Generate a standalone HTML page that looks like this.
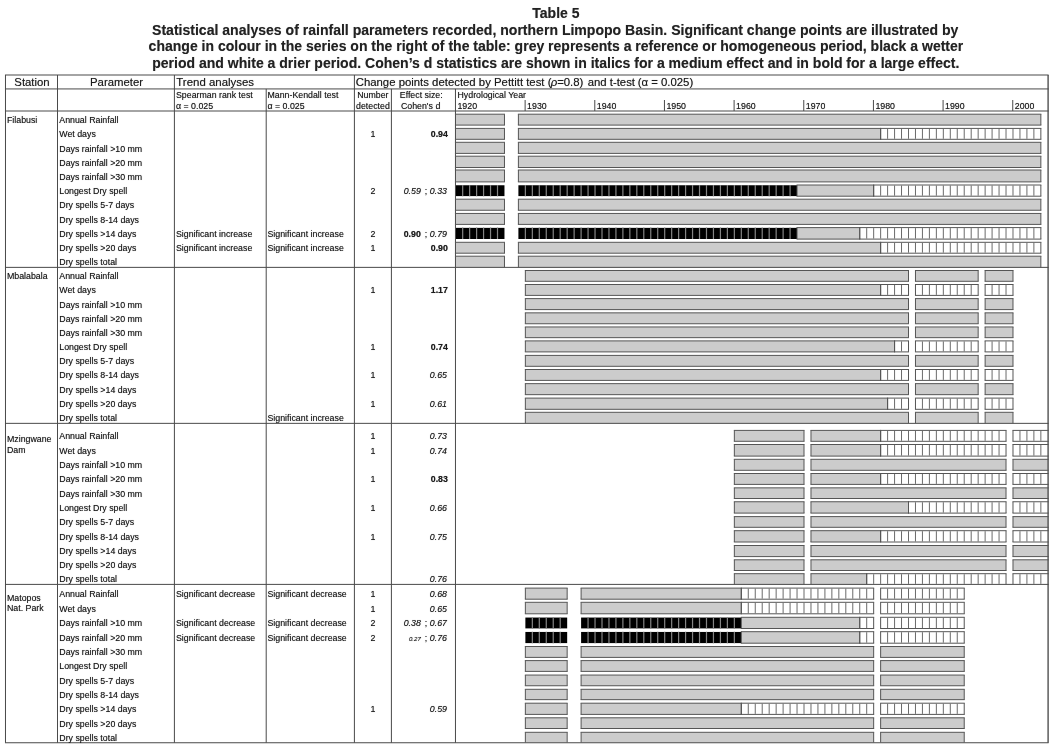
<!DOCTYPE html>
<html lang="en"><head><meta charset="utf-8"><title>Table 5</title>
<style>
html,body{margin:0;padding:0;background:#fff;}
body{width:1052px;height:748px;overflow:hidden;}
#pg{position:relative;width:1052px;height:748px;overflow:hidden;background:#fff;font-family:"Liberation Sans",Arial,Helvetica,sans-serif;color:#1a1a1a;}
#bars{position:absolute;left:0;top:0;}
.t,.h,.ti{position:absolute;white-space:nowrap;}
.t{font-size:8.8px;line-height:12px;text-shadow:0 0 0.7px rgba(0,0,0,0.55);}
.h{font-size:11.45px;line-height:14px;text-shadow:0 0 0.7px rgba(0,0,0,0.5);}
.ti{font-size:14.03px;line-height:18px;font-weight:bold;color:#222;text-shadow:0 0 0.7px rgba(0,0,0,0.4);}
.sm{font-size:6.1px;margin-left:0.4px;}
.sc{margin:0 0.1px 0 1.6px;}
.rho{font-style:italic;margin:0 -0.2px 0 -0.6px;}
.sq{margin-left:1.1px;}
.sq2{margin-left:-0.5px;}
rect.l{fill:#4a4a4a;}
rect.g{fill:#cccccc;}
rect.w{fill:#fff;}
rect.b{fill:#000;}
path.e{fill:none;stroke:#555;stroke-width:1;}
path.sw{fill:none;stroke:#626262;stroke-width:0.95;}
path.s{fill:none;stroke:#858585;stroke-width:1.2;}
</style></head><body>
<div id="pg">
<div class="ti" style="left:-44.10px;top:4px;width:1200px;text-align:center;font-size:14.03px;">Table 5</div>
<div class="ti" style="left:-44.80px;top:21px;width:1200px;text-align:center;font-size:14.05px;">Statistical analyses of rainfall parameters recorded, northern Limpopo Basin. Significant change points are illustrated by</div>
<div class="ti" style="left:-44.05px;top:37px;width:1200px;text-align:center;font-size:14.03px;">change in colour in the series on the right of the table: grey represents a reference or homogeneous period, black a wetter</div>
<div class="ti" style="left:-44.20px;top:54px;width:1200px;text-align:center;font-size:14.04px;">period and white a drier period. Cohen’s d statistics are shown in italics for a medium effect and in bold for a large effect.</div>
<svg id="bars" width="1052" height="748" viewBox="0 0 1052 748">
<g id="fills"><rect class="g" x="455.46" y="114.20" width="49.01" height="10.90"/><rect class="g" x="518.40" y="114.20" width="522.45" height="10.90"/><rect class="g" x="455.46" y="128.40" width="49.01" height="10.90"/><rect class="g" x="518.40" y="128.40" width="362.23" height="10.90"/><rect class="w" x="880.64" y="128.40" width="160.22" height="10.90"/><rect class="g" x="455.46" y="142.30" width="49.01" height="11.10"/><rect class="g" x="518.40" y="142.30" width="522.45" height="11.10"/><rect class="g" x="455.46" y="156.20" width="49.01" height="11.30"/><rect class="g" x="518.40" y="156.20" width="522.45" height="11.30"/><rect class="g" x="455.46" y="170.00" width="49.01" height="11.90"/><rect class="g" x="518.40" y="170.00" width="522.45" height="11.90"/><rect class="b" x="455.46" y="185.25" width="49.01" height="10.85"/><rect class="b" x="518.40" y="185.25" width="278.64" height="10.85"/><rect class="g" x="797.04" y="185.00" width="76.63" height="11.20"/><rect class="w" x="873.67" y="185.00" width="167.18" height="11.20"/><rect class="g" x="455.46" y="199.20" width="49.01" height="11.05"/><rect class="g" x="518.40" y="199.20" width="522.45" height="11.05"/><rect class="g" x="455.46" y="213.45" width="49.01" height="10.95"/><rect class="g" x="518.40" y="213.45" width="522.45" height="10.95"/><rect class="b" x="455.46" y="227.85" width="49.01" height="11.15"/><rect class="b" x="518.40" y="227.85" width="278.64" height="11.15"/><rect class="g" x="797.04" y="227.60" width="62.69" height="11.50"/><rect class="w" x="859.74" y="227.60" width="181.12" height="11.50"/><rect class="g" x="455.46" y="242.30" width="49.01" height="10.90"/><rect class="g" x="518.40" y="242.30" width="362.23" height="10.90"/><rect class="w" x="880.64" y="242.30" width="160.22" height="10.90"/><rect class="g" x="455.46" y="256.20" width="49.01" height="11.20"/><rect class="g" x="518.40" y="256.20" width="522.45" height="11.20"/><rect class="g" x="525.37" y="270.50" width="383.13" height="10.80"/><rect class="g" x="915.47" y="270.50" width="62.69" height="10.80"/><rect class="g" x="985.13" y="270.50" width="27.86" height="10.80"/><rect class="g" x="525.37" y="284.50" width="355.27" height="10.90"/><rect class="w" x="880.64" y="284.50" width="27.86" height="10.90"/><rect class="w" x="915.47" y="284.50" width="62.69" height="10.90"/><rect class="w" x="985.13" y="284.50" width="27.86" height="10.90"/><rect class="g" x="525.37" y="298.60" width="383.13" height="11.00"/><rect class="g" x="915.47" y="298.60" width="62.69" height="11.00"/><rect class="g" x="985.13" y="298.60" width="27.86" height="11.00"/><rect class="g" x="525.37" y="312.85" width="383.13" height="10.90"/><rect class="g" x="915.47" y="312.85" width="62.69" height="10.90"/><rect class="g" x="985.13" y="312.85" width="27.86" height="10.90"/><rect class="g" x="525.37" y="326.96" width="383.13" height="10.70"/><rect class="g" x="915.47" y="326.96" width="62.69" height="10.70"/><rect class="g" x="985.13" y="326.96" width="27.86" height="10.70"/><rect class="g" x="525.37" y="340.90" width="369.20" height="11.00"/><rect class="w" x="894.57" y="340.90" width="13.93" height="11.00"/><rect class="w" x="915.47" y="340.90" width="62.69" height="11.00"/><rect class="w" x="985.13" y="340.90" width="27.86" height="11.00"/><rect class="g" x="525.37" y="355.40" width="383.13" height="10.90"/><rect class="g" x="915.47" y="355.40" width="62.69" height="10.90"/><rect class="g" x="985.13" y="355.40" width="27.86" height="10.90"/><rect class="g" x="525.37" y="369.50" width="355.27" height="10.90"/><rect class="w" x="880.64" y="369.50" width="27.86" height="10.90"/><rect class="w" x="915.47" y="369.50" width="62.69" height="10.90"/><rect class="w" x="985.13" y="369.50" width="27.86" height="10.90"/><rect class="g" x="525.37" y="383.65" width="383.13" height="11.01"/><rect class="g" x="915.47" y="383.65" width="62.69" height="11.01"/><rect class="g" x="985.13" y="383.65" width="27.86" height="11.01"/><rect class="g" x="525.37" y="398.10" width="362.23" height="11.20"/><rect class="w" x="887.60" y="398.10" width="20.90" height="11.20"/><rect class="w" x="915.47" y="398.10" width="62.69" height="11.20"/><rect class="w" x="985.13" y="398.10" width="27.86" height="11.20"/><rect class="g" x="525.37" y="412.30" width="383.13" height="10.90"/><rect class="g" x="915.47" y="412.30" width="62.69" height="10.90"/><rect class="g" x="985.13" y="412.30" width="27.86" height="10.90"/><rect class="g" x="734.35" y="430.40" width="69.66" height="10.90"/><rect class="g" x="810.98" y="430.40" width="69.66" height="10.90"/><rect class="w" x="880.64" y="430.40" width="125.39" height="10.90"/><rect class="w" x="1012.99" y="430.40" width="35.11" height="10.90"/><rect class="g" x="734.35" y="444.50" width="69.66" height="11.60"/><rect class="g" x="810.98" y="444.50" width="69.66" height="11.60"/><rect class="w" x="880.64" y="444.50" width="125.39" height="11.60"/><rect class="w" x="1012.99" y="444.50" width="35.11" height="11.60"/><rect class="g" x="734.35" y="459.30" width="69.66" height="11.00"/><rect class="g" x="810.98" y="459.30" width="195.05" height="11.00"/><rect class="g" x="1012.99" y="459.30" width="35.11" height="11.00"/><rect class="g" x="734.35" y="473.50" width="69.66" height="10.90"/><rect class="g" x="810.98" y="473.50" width="69.66" height="10.90"/><rect class="w" x="880.64" y="473.50" width="125.39" height="10.90"/><rect class="w" x="1012.99" y="473.50" width="35.11" height="10.90"/><rect class="g" x="734.35" y="487.85" width="69.66" height="10.65"/><rect class="g" x="810.98" y="487.85" width="195.05" height="10.65"/><rect class="g" x="1012.99" y="487.85" width="35.11" height="10.65"/><rect class="g" x="734.35" y="501.75" width="69.66" height="11.35"/><rect class="g" x="810.98" y="501.75" width="97.52" height="11.35"/><rect class="w" x="908.50" y="501.75" width="97.52" height="11.35"/><rect class="w" x="1012.99" y="501.75" width="35.11" height="11.35"/><rect class="g" x="734.35" y="516.60" width="69.66" height="10.70"/><rect class="g" x="810.98" y="516.60" width="195.05" height="10.70"/><rect class="g" x="1012.99" y="516.60" width="35.11" height="10.70"/><rect class="g" x="734.35" y="530.70" width="69.66" height="11.30"/><rect class="g" x="810.98" y="530.70" width="69.66" height="11.30"/><rect class="w" x="880.64" y="530.70" width="125.39" height="11.30"/><rect class="w" x="1012.99" y="530.70" width="35.11" height="11.30"/><rect class="g" x="734.35" y="545.50" width="69.66" height="11.10"/><rect class="g" x="810.98" y="545.50" width="195.05" height="11.10"/><rect class="g" x="1012.99" y="545.50" width="35.11" height="11.10"/><rect class="g" x="734.35" y="559.80" width="69.66" height="10.70"/><rect class="g" x="810.98" y="559.80" width="195.05" height="10.70"/><rect class="g" x="1012.99" y="559.80" width="35.11" height="10.70"/><rect class="g" x="734.35" y="573.70" width="69.66" height="10.70"/><rect class="g" x="810.98" y="573.70" width="55.73" height="10.70"/><rect class="w" x="866.70" y="573.70" width="139.32" height="10.70"/><rect class="w" x="1012.99" y="573.70" width="35.11" height="10.70"/><rect class="g" x="525.37" y="588.10" width="41.80" height="11.10"/><rect class="g" x="581.10" y="588.10" width="160.22" height="11.10"/><rect class="w" x="741.32" y="588.10" width="132.35" height="11.10"/><rect class="w" x="880.64" y="588.10" width="83.59" height="11.10"/><rect class="g" x="525.37" y="602.30" width="41.80" height="11.50"/><rect class="g" x="581.10" y="602.30" width="160.22" height="11.50"/><rect class="w" x="741.32" y="602.30" width="132.35" height="11.50"/><rect class="w" x="880.64" y="602.30" width="83.59" height="11.50"/><rect class="b" x="525.37" y="617.55" width="41.80" height="10.85"/><rect class="b" x="581.10" y="617.55" width="160.22" height="10.85"/><rect class="g" x="741.32" y="617.30" width="118.42" height="11.20"/><rect class="w" x="859.74" y="617.30" width="13.93" height="11.20"/><rect class="w" x="880.64" y="617.30" width="83.59" height="11.20"/><rect class="b" x="525.37" y="631.95" width="41.80" height="11.15"/><rect class="b" x="581.10" y="631.95" width="160.22" height="11.15"/><rect class="g" x="741.32" y="631.70" width="118.42" height="11.50"/><rect class="w" x="859.74" y="631.70" width="13.93" height="11.50"/><rect class="w" x="880.64" y="631.70" width="83.59" height="11.50"/><rect class="g" x="525.37" y="646.50" width="41.80" height="10.90"/><rect class="g" x="581.10" y="646.50" width="292.57" height="10.90"/><rect class="g" x="880.64" y="646.50" width="83.59" height="10.90"/><rect class="g" x="525.37" y="660.60" width="41.80" height="10.80"/><rect class="g" x="581.10" y="660.60" width="292.57" height="10.80"/><rect class="g" x="880.64" y="660.60" width="83.59" height="10.80"/><rect class="g" x="525.37" y="675.05" width="41.80" height="10.70"/><rect class="g" x="581.10" y="675.05" width="292.57" height="10.70"/><rect class="g" x="880.64" y="675.05" width="83.59" height="10.70"/><rect class="g" x="525.37" y="689.30" width="41.80" height="10.35"/><rect class="g" x="581.10" y="689.30" width="292.57" height="10.35"/><rect class="g" x="880.64" y="689.30" width="83.59" height="10.35"/><rect class="g" x="525.37" y="703.20" width="41.80" height="11.20"/><rect class="g" x="581.10" y="703.20" width="160.22" height="11.20"/><rect class="w" x="741.32" y="703.20" width="132.35" height="11.20"/><rect class="w" x="880.64" y="703.20" width="83.59" height="11.20"/><rect class="g" x="525.37" y="717.80" width="41.80" height="10.70"/><rect class="g" x="581.10" y="717.80" width="292.57" height="10.70"/><rect class="g" x="880.64" y="717.80" width="83.59" height="10.70"/><rect class="g" x="525.37" y="732.30" width="41.80" height="10.20"/><rect class="g" x="581.10" y="732.30" width="292.57" height="10.20"/><rect class="g" x="880.64" y="732.30" width="83.59" height="10.20"/></g>
<g id="rules"><rect class="l" x="4.98" y="74.50" width="1043.62" height="1.0"/><rect class="l" x="4.98" y="88.43" width="1043.62" height="1.0"/><rect class="l" x="4.98" y="110.50" width="1043.62" height="1.0"/><rect class="l" x="4.98" y="266.87" width="1043.62" height="1.0"/><rect class="l" x="4.98" y="422.85" width="1043.62" height="1.0"/><rect class="l" x="4.98" y="583.89" width="1043.62" height="1.0"/><rect class="l" x="4.98" y="742.25" width="1043.62" height="1.0"/><rect class="l" x="4.98" y="75.00" width="1.0" height="667.75"/><rect class="l" x="1047.42" y="75.00" width="1.35" height="667.75"/><rect class="l" x="57.00" y="75.00" width="1.0" height="667.75"/><rect class="l" x="173.90" y="75.00" width="1.0" height="667.75"/><rect class="l" x="353.90" y="75.00" width="1.0" height="667.75"/><rect class="l" x="265.70" y="88.93" width="1.0" height="653.82"/><rect class="l" x="390.90" y="88.93" width="1.0" height="653.82"/><rect class="l" x="454.96" y="88.93" width="1.0" height="653.82"/><rect class="l" x="524.62" y="100.00" width="1.0" height="11.00"/><rect class="l" x="594.28" y="100.00" width="1.0" height="11.00"/><rect class="l" x="663.94" y="100.00" width="1.0" height="11.00"/><rect class="l" x="733.60" y="100.00" width="1.0" height="11.00"/><rect class="l" x="803.26" y="100.00" width="1.0" height="11.00"/><rect class="l" x="872.92" y="100.00" width="1.0" height="11.00"/><rect class="l" x="942.58" y="100.00" width="1.0" height="11.00"/><rect class="l" x="1012.24" y="100.00" width="1.0" height="11.00"/></g>
<g id="edges"><path class="e" d="M454.96 114.20H504.97M454.96 125.10H504.97M504.47 114.20V125.10M517.90 114.20H1041.35M517.90 125.10H1041.35M518.40 114.20V125.10M1040.85 114.20V125.10M454.96 128.40H504.97M454.96 139.30H504.97M504.47 128.40V139.30M517.90 128.40H881.14M517.90 139.30H881.14M518.40 128.40V139.30M880.64 128.40V139.30M880.14 128.40H1041.35M880.14 139.30H1041.35M880.64 128.40V139.30M1040.85 128.40V139.30M454.96 142.30H504.97M454.96 153.40H504.97M504.47 142.30V153.40M517.90 142.30H1041.35M517.90 153.40H1041.35M518.40 142.30V153.40M1040.85 142.30V153.40M454.96 156.20H504.97M454.96 167.50H504.97M504.47 156.20V167.50M517.90 156.20H1041.35M517.90 167.50H1041.35M518.40 156.20V167.50M1040.85 156.20V167.50M454.96 170.00H504.97M454.96 181.90H504.97M504.47 170.00V181.90M517.90 170.00H1041.35M517.90 181.90H1041.35M518.40 170.00V181.90M1040.85 170.00V181.90M796.54 185.00H874.17M796.54 196.20H874.17M797.04 185.00V196.20M873.67 185.00V196.20M873.17 185.00H1041.35M873.17 196.20H1041.35M873.67 185.00V196.20M1040.85 185.00V196.20M454.96 199.20H504.97M454.96 210.25H504.97M504.47 199.20V210.25M517.90 199.20H1041.35M517.90 210.25H1041.35M518.40 199.20V210.25M1040.85 199.20V210.25M454.96 213.45H504.97M454.96 224.40H504.97M504.47 213.45V224.40M517.90 213.45H1041.35M517.90 224.40H1041.35M518.40 213.45V224.40M1040.85 213.45V224.40M796.54 227.60H860.24M796.54 239.10H860.24M797.04 227.60V239.10M859.74 227.60V239.10M859.24 227.60H1041.35M859.24 239.10H1041.35M859.74 227.60V239.10M1040.85 227.60V239.10M454.96 242.30H504.97M454.96 253.20H504.97M504.47 242.30V253.20M517.90 242.30H881.14M517.90 253.20H881.14M518.40 242.30V253.20M880.64 242.30V253.20M880.14 242.30H1041.35M880.14 253.20H1041.35M880.64 242.30V253.20M1040.85 242.30V253.20M454.96 256.20H504.97M504.47 256.20V267.40M517.90 256.20H1041.35M518.40 256.20V267.40M1040.85 256.20V267.40M524.87 270.50H909.00M524.87 281.30H909.00M525.37 270.50V281.30M908.50 270.50V281.30M914.97 270.50H978.66M914.97 281.30H978.66M915.47 270.50V281.30M978.16 270.50V281.30M984.63 270.50H1013.49M984.63 281.30H1013.49M985.13 270.50V281.30M1012.99 270.50V281.30M524.87 284.50H881.14M524.87 295.40H881.14M525.37 284.50V295.40M880.64 284.50V295.40M880.14 284.50H909.00M880.14 295.40H909.00M880.64 284.50V295.40M908.50 284.50V295.40M914.97 284.50H978.66M914.97 295.40H978.66M915.47 284.50V295.40M978.16 284.50V295.40M984.63 284.50H1013.49M984.63 295.40H1013.49M985.13 284.50V295.40M1012.99 284.50V295.40M524.87 298.60H909.00M524.87 309.60H909.00M525.37 298.60V309.60M908.50 298.60V309.60M914.97 298.60H978.66M914.97 309.60H978.66M915.47 298.60V309.60M978.16 298.60V309.60M984.63 298.60H1013.49M984.63 309.60H1013.49M985.13 298.60V309.60M1012.99 298.60V309.60M524.87 312.85H909.00M524.87 323.75H909.00M525.37 312.85V323.75M908.50 312.85V323.75M914.97 312.85H978.66M914.97 323.75H978.66M915.47 312.85V323.75M978.16 312.85V323.75M984.63 312.85H1013.49M984.63 323.75H1013.49M985.13 312.85V323.75M1012.99 312.85V323.75M524.87 326.96H909.00M524.87 337.66H909.00M525.37 326.96V337.66M908.50 326.96V337.66M914.97 326.96H978.66M914.97 337.66H978.66M915.47 326.96V337.66M978.16 326.96V337.66M984.63 326.96H1013.49M984.63 337.66H1013.49M985.13 326.96V337.66M1012.99 326.96V337.66M524.87 340.90H895.07M524.87 351.90H895.07M525.37 340.90V351.90M894.57 340.90V351.90M894.07 340.90H909.00M894.07 351.90H909.00M894.57 340.90V351.90M908.50 340.90V351.90M914.97 340.90H978.66M914.97 351.90H978.66M915.47 340.90V351.90M978.16 340.90V351.90M984.63 340.90H1013.49M984.63 351.90H1013.49M985.13 340.90V351.90M1012.99 340.90V351.90M524.87 355.40H909.00M524.87 366.30H909.00M525.37 355.40V366.30M908.50 355.40V366.30M914.97 355.40H978.66M914.97 366.30H978.66M915.47 355.40V366.30M978.16 355.40V366.30M984.63 355.40H1013.49M984.63 366.30H1013.49M985.13 355.40V366.30M1012.99 355.40V366.30M524.87 369.50H881.14M524.87 380.40H881.14M525.37 369.50V380.40M880.64 369.50V380.40M880.14 369.50H909.00M880.14 380.40H909.00M880.64 369.50V380.40M908.50 369.50V380.40M914.97 369.50H978.66M914.97 380.40H978.66M915.47 369.50V380.40M978.16 369.50V380.40M984.63 369.50H1013.49M984.63 380.40H1013.49M985.13 369.50V380.40M1012.99 369.50V380.40M524.87 383.65H909.00M524.87 394.66H909.00M525.37 383.65V394.66M908.50 383.65V394.66M914.97 383.65H978.66M914.97 394.66H978.66M915.47 383.65V394.66M978.16 383.65V394.66M984.63 383.65H1013.49M984.63 394.66H1013.49M985.13 383.65V394.66M1012.99 383.65V394.66M524.87 398.10H888.10M524.87 409.30H888.10M525.37 398.10V409.30M887.60 398.10V409.30M887.10 398.10H909.00M887.10 409.30H909.00M887.60 398.10V409.30M908.50 398.10V409.30M914.97 398.10H978.66M914.97 409.30H978.66M915.47 398.10V409.30M978.16 398.10V409.30M984.63 398.10H1013.49M984.63 409.30H1013.49M985.13 398.10V409.30M1012.99 398.10V409.30M524.87 412.30H909.00M525.37 412.30V423.20M908.50 412.30V423.20M914.97 412.30H978.66M915.47 412.30V423.20M978.16 412.30V423.20M984.63 412.30H1013.49M985.13 412.30V423.20M1012.99 412.30V423.20M733.85 430.40H804.51M733.85 441.30H804.51M734.35 430.40V441.30M804.01 430.40V441.30M810.48 430.40H881.14M810.48 441.30H881.14M810.98 430.40V441.30M880.64 430.40V441.30M880.14 430.40H1006.52M880.14 441.30H1006.52M880.64 430.40V441.30M1006.02 430.40V441.30M1012.49 430.40H1048.60M1012.49 441.30H1048.60M1012.99 430.40V441.30M733.85 444.50H804.51M733.85 456.10H804.51M734.35 444.50V456.10M804.01 444.50V456.10M810.48 444.50H881.14M810.48 456.10H881.14M810.98 444.50V456.10M880.64 444.50V456.10M880.14 444.50H1006.52M880.14 456.10H1006.52M880.64 444.50V456.10M1006.02 444.50V456.10M1012.49 444.50H1048.60M1012.49 456.10H1048.60M1012.99 444.50V456.10M733.85 459.30H804.51M733.85 470.30H804.51M734.35 459.30V470.30M804.01 459.30V470.30M810.48 459.30H1006.52M810.48 470.30H1006.52M810.98 459.30V470.30M1006.02 459.30V470.30M1012.49 459.30H1048.60M1012.49 470.30H1048.60M1012.99 459.30V470.30M733.85 473.50H804.51M733.85 484.40H804.51M734.35 473.50V484.40M804.01 473.50V484.40M810.48 473.50H881.14M810.48 484.40H881.14M810.98 473.50V484.40M880.64 473.50V484.40M880.14 473.50H1006.52M880.14 484.40H1006.52M880.64 473.50V484.40M1006.02 473.50V484.40M1012.49 473.50H1048.60M1012.49 484.40H1048.60M1012.99 473.50V484.40M733.85 487.85H804.51M733.85 498.50H804.51M734.35 487.85V498.50M804.01 487.85V498.50M810.48 487.85H1006.52M810.48 498.50H1006.52M810.98 487.85V498.50M1006.02 487.85V498.50M1012.49 487.85H1048.60M1012.49 498.50H1048.60M1012.99 487.85V498.50M733.85 501.75H804.51M733.85 513.10H804.51M734.35 501.75V513.10M804.01 501.75V513.10M810.48 501.75H909.00M810.48 513.10H909.00M810.98 501.75V513.10M908.50 501.75V513.10M908.00 501.75H1006.52M908.00 513.10H1006.52M908.50 501.75V513.10M1006.02 501.75V513.10M1012.49 501.75H1048.60M1012.49 513.10H1048.60M1012.99 501.75V513.10M733.85 516.60H804.51M733.85 527.30H804.51M734.35 516.60V527.30M804.01 516.60V527.30M810.48 516.60H1006.52M810.48 527.30H1006.52M810.98 516.60V527.30M1006.02 516.60V527.30M1012.49 516.60H1048.60M1012.49 527.30H1048.60M1012.99 516.60V527.30M733.85 530.70H804.51M733.85 542.00H804.51M734.35 530.70V542.00M804.01 530.70V542.00M810.48 530.70H881.14M810.48 542.00H881.14M810.98 530.70V542.00M880.64 530.70V542.00M880.14 530.70H1006.52M880.14 542.00H1006.52M880.64 530.70V542.00M1006.02 530.70V542.00M1012.49 530.70H1048.60M1012.49 542.00H1048.60M1012.99 530.70V542.00M733.85 545.50H804.51M733.85 556.60H804.51M734.35 545.50V556.60M804.01 545.50V556.60M810.48 545.50H1006.52M810.48 556.60H1006.52M810.98 545.50V556.60M1006.02 545.50V556.60M1012.49 545.50H1048.60M1012.49 556.60H1048.60M1012.99 545.50V556.60M733.85 559.80H804.51M733.85 570.50H804.51M734.35 559.80V570.50M804.01 559.80V570.50M810.48 559.80H1006.52M810.48 570.50H1006.52M810.98 559.80V570.50M1006.02 559.80V570.50M1012.49 559.80H1048.60M1012.49 570.50H1048.60M1012.99 559.80V570.50M733.85 573.70H804.51M734.35 573.70V584.40M804.01 573.70V584.40M810.48 573.70H867.20M810.98 573.70V584.40M866.70 573.70V584.40M866.20 573.70H1006.52M866.70 573.70V584.40M1006.02 573.70V584.40M1012.49 573.70H1048.60M1012.99 573.70V584.40M524.87 588.10H567.67M524.87 599.20H567.67M525.37 588.10V599.20M567.17 588.10V599.20M580.60 588.10H741.82M580.60 599.20H741.82M581.10 588.10V599.20M741.32 588.10V599.20M740.82 588.10H874.17M740.82 599.20H874.17M741.32 588.10V599.20M873.67 588.10V599.20M880.14 588.10H964.73M880.14 599.20H964.73M880.64 588.10V599.20M964.23 588.10V599.20M524.87 602.30H567.67M524.87 613.80H567.67M525.37 602.30V613.80M567.17 602.30V613.80M580.60 602.30H741.82M580.60 613.80H741.82M581.10 602.30V613.80M741.32 602.30V613.80M740.82 602.30H874.17M740.82 613.80H874.17M741.32 602.30V613.80M873.67 602.30V613.80M880.14 602.30H964.73M880.14 613.80H964.73M880.64 602.30V613.80M964.23 602.30V613.80M740.82 617.30H860.24M740.82 628.50H860.24M741.32 617.30V628.50M859.74 617.30V628.50M859.24 617.30H874.17M859.24 628.50H874.17M859.74 617.30V628.50M873.67 617.30V628.50M880.14 617.30H964.73M880.14 628.50H964.73M880.64 617.30V628.50M964.23 617.30V628.50M740.82 631.70H860.24M740.82 643.20H860.24M741.32 631.70V643.20M859.74 631.70V643.20M859.24 631.70H874.17M859.24 643.20H874.17M859.74 631.70V643.20M873.67 631.70V643.20M880.14 631.70H964.73M880.14 643.20H964.73M880.64 631.70V643.20M964.23 631.70V643.20M524.87 646.50H567.67M524.87 657.40H567.67M525.37 646.50V657.40M567.17 646.50V657.40M580.60 646.50H874.17M580.60 657.40H874.17M581.10 646.50V657.40M873.67 646.50V657.40M880.14 646.50H964.73M880.14 657.40H964.73M880.64 646.50V657.40M964.23 646.50V657.40M524.87 660.60H567.67M524.87 671.40H567.67M525.37 660.60V671.40M567.17 660.60V671.40M580.60 660.60H874.17M580.60 671.40H874.17M581.10 660.60V671.40M873.67 660.60V671.40M880.14 660.60H964.73M880.14 671.40H964.73M880.64 660.60V671.40M964.23 660.60V671.40M524.87 675.05H567.67M524.87 685.75H567.67M525.37 675.05V685.75M567.17 675.05V685.75M580.60 675.05H874.17M580.60 685.75H874.17M581.10 675.05V685.75M873.67 675.05V685.75M880.14 675.05H964.73M880.14 685.75H964.73M880.64 675.05V685.75M964.23 675.05V685.75M524.87 689.30H567.67M524.87 699.65H567.67M525.37 689.30V699.65M567.17 689.30V699.65M580.60 689.30H874.17M580.60 699.65H874.17M581.10 689.30V699.65M873.67 689.30V699.65M880.14 689.30H964.73M880.14 699.65H964.73M880.64 689.30V699.65M964.23 689.30V699.65M524.87 703.20H567.67M524.87 714.40H567.67M525.37 703.20V714.40M567.17 703.20V714.40M580.60 703.20H741.82M580.60 714.40H741.82M581.10 703.20V714.40M741.32 703.20V714.40M740.82 703.20H874.17M740.82 714.40H874.17M741.32 703.20V714.40M873.67 703.20V714.40M880.14 703.20H964.73M880.14 714.40H964.73M880.64 703.20V714.40M964.23 703.20V714.40M524.87 717.80H567.67M524.87 728.50H567.67M525.37 717.80V728.50M567.17 717.80V728.50M580.60 717.80H874.17M580.60 728.50H874.17M581.10 717.80V728.50M873.67 717.80V728.50M880.14 717.80H964.73M880.14 728.50H964.73M880.64 717.80V728.50M964.23 717.80V728.50M524.87 732.30H567.67M525.37 732.30V742.50M567.17 732.30V742.50M580.60 732.30H874.17M581.10 732.30V742.50M873.67 732.30V742.50M880.14 732.30H964.73M880.64 732.30V742.50M964.23 732.30V742.50"/>
<path class="sw" d="M887.60 128.90V138.80M894.57 128.90V138.80M901.53 128.90V138.80M908.50 128.90V138.80M915.47 128.90V138.80M922.43 128.90V138.80M929.40 128.90V138.80M936.36 128.90V138.80M943.33 128.90V138.80M950.30 128.90V138.80M957.26 128.90V138.80M964.23 128.90V138.80M971.19 128.90V138.80M978.16 128.90V138.80M985.13 128.90V138.80M992.09 128.90V138.80M999.06 128.90V138.80M1006.02 128.90V138.80M1012.99 128.90V138.80M1019.96 128.90V138.80M1026.92 128.90V138.80M1033.89 128.90V138.80M880.64 185.50V195.70M887.60 185.50V195.70M894.57 185.50V195.70M901.53 185.50V195.70M908.50 185.50V195.70M915.47 185.50V195.70M922.43 185.50V195.70M929.40 185.50V195.70M936.36 185.50V195.70M943.33 185.50V195.70M950.30 185.50V195.70M957.26 185.50V195.70M964.23 185.50V195.70M971.19 185.50V195.70M978.16 185.50V195.70M985.13 185.50V195.70M992.09 185.50V195.70M999.06 185.50V195.70M1006.02 185.50V195.70M1012.99 185.50V195.70M1019.96 185.50V195.70M1026.92 185.50V195.70M1033.89 185.50V195.70M866.70 228.10V238.60M873.67 228.10V238.60M880.64 228.10V238.60M887.60 228.10V238.60M894.57 228.10V238.60M901.53 228.10V238.60M908.50 228.10V238.60M915.47 228.10V238.60M922.43 228.10V238.60M929.40 228.10V238.60M936.36 228.10V238.60M943.33 228.10V238.60M950.30 228.10V238.60M957.26 228.10V238.60M964.23 228.10V238.60M971.19 228.10V238.60M978.16 228.10V238.60M985.13 228.10V238.60M992.09 228.10V238.60M999.06 228.10V238.60M1006.02 228.10V238.60M1012.99 228.10V238.60M1019.96 228.10V238.60M1026.92 228.10V238.60M1033.89 228.10V238.60M887.60 242.80V252.70M894.57 242.80V252.70M901.53 242.80V252.70M908.50 242.80V252.70M915.47 242.80V252.70M922.43 242.80V252.70M929.40 242.80V252.70M936.36 242.80V252.70M943.33 242.80V252.70M950.30 242.80V252.70M957.26 242.80V252.70M964.23 242.80V252.70M971.19 242.80V252.70M978.16 242.80V252.70M985.13 242.80V252.70M992.09 242.80V252.70M999.06 242.80V252.70M1006.02 242.80V252.70M1012.99 242.80V252.70M1019.96 242.80V252.70M1026.92 242.80V252.70M1033.89 242.80V252.70M887.60 285.00V294.90M894.57 285.00V294.90M901.53 285.00V294.90M922.43 285.00V294.90M929.40 285.00V294.90M936.36 285.00V294.90M943.33 285.00V294.90M950.30 285.00V294.90M957.26 285.00V294.90M964.23 285.00V294.90M971.19 285.00V294.90M992.09 285.00V294.90M999.06 285.00V294.90M1006.02 285.00V294.90M901.53 341.40V351.40M922.43 341.40V351.40M929.40 341.40V351.40M936.36 341.40V351.40M943.33 341.40V351.40M950.30 341.40V351.40M957.26 341.40V351.40M964.23 341.40V351.40M971.19 341.40V351.40M992.09 341.40V351.40M999.06 341.40V351.40M1006.02 341.40V351.40M887.60 370.00V379.90M894.57 370.00V379.90M901.53 370.00V379.90M922.43 370.00V379.90M929.40 370.00V379.90M936.36 370.00V379.90M943.33 370.00V379.90M950.30 370.00V379.90M957.26 370.00V379.90M964.23 370.00V379.90M971.19 370.00V379.90M992.09 370.00V379.90M999.06 370.00V379.90M1006.02 370.00V379.90M894.57 398.60V408.80M901.53 398.60V408.80M922.43 398.60V408.80M929.40 398.60V408.80M936.36 398.60V408.80M943.33 398.60V408.80M950.30 398.60V408.80M957.26 398.60V408.80M964.23 398.60V408.80M971.19 398.60V408.80M992.09 398.60V408.80M999.06 398.60V408.80M1006.02 398.60V408.80M887.60 430.90V440.80M894.57 430.90V440.80M901.53 430.90V440.80M908.50 430.90V440.80M915.47 430.90V440.80M922.43 430.90V440.80M929.40 430.90V440.80M936.36 430.90V440.80M943.33 430.90V440.80M950.30 430.90V440.80M957.26 430.90V440.80M964.23 430.90V440.80M971.19 430.90V440.80M978.16 430.90V440.80M985.13 430.90V440.80M992.09 430.90V440.80M999.06 430.90V440.80M1019.96 430.90V440.80M1026.92 430.90V440.80M1033.89 430.90V440.80M1040.85 430.90V440.80M887.60 445.00V455.60M894.57 445.00V455.60M901.53 445.00V455.60M908.50 445.00V455.60M915.47 445.00V455.60M922.43 445.00V455.60M929.40 445.00V455.60M936.36 445.00V455.60M943.33 445.00V455.60M950.30 445.00V455.60M957.26 445.00V455.60M964.23 445.00V455.60M971.19 445.00V455.60M978.16 445.00V455.60M985.13 445.00V455.60M992.09 445.00V455.60M999.06 445.00V455.60M1019.96 445.00V455.60M1026.92 445.00V455.60M1033.89 445.00V455.60M1040.85 445.00V455.60M887.60 474.00V483.90M894.57 474.00V483.90M901.53 474.00V483.90M908.50 474.00V483.90M915.47 474.00V483.90M922.43 474.00V483.90M929.40 474.00V483.90M936.36 474.00V483.90M943.33 474.00V483.90M950.30 474.00V483.90M957.26 474.00V483.90M964.23 474.00V483.90M971.19 474.00V483.90M978.16 474.00V483.90M985.13 474.00V483.90M992.09 474.00V483.90M999.06 474.00V483.90M1019.96 474.00V483.90M1026.92 474.00V483.90M1033.89 474.00V483.90M1040.85 474.00V483.90M915.47 502.25V512.60M922.43 502.25V512.60M929.40 502.25V512.60M936.36 502.25V512.60M943.33 502.25V512.60M950.30 502.25V512.60M957.26 502.25V512.60M964.23 502.25V512.60M971.19 502.25V512.60M978.16 502.25V512.60M985.13 502.25V512.60M992.09 502.25V512.60M999.06 502.25V512.60M1019.96 502.25V512.60M1026.92 502.25V512.60M1033.89 502.25V512.60M1040.85 502.25V512.60M887.60 531.20V541.50M894.57 531.20V541.50M901.53 531.20V541.50M908.50 531.20V541.50M915.47 531.20V541.50M922.43 531.20V541.50M929.40 531.20V541.50M936.36 531.20V541.50M943.33 531.20V541.50M950.30 531.20V541.50M957.26 531.20V541.50M964.23 531.20V541.50M971.19 531.20V541.50M978.16 531.20V541.50M985.13 531.20V541.50M992.09 531.20V541.50M999.06 531.20V541.50M1019.96 531.20V541.50M1026.92 531.20V541.50M1033.89 531.20V541.50M1040.85 531.20V541.50M873.67 574.20V583.90M880.64 574.20V583.90M887.60 574.20V583.90M894.57 574.20V583.90M901.53 574.20V583.90M908.50 574.20V583.90M915.47 574.20V583.90M922.43 574.20V583.90M929.40 574.20V583.90M936.36 574.20V583.90M943.33 574.20V583.90M950.30 574.20V583.90M957.26 574.20V583.90M964.23 574.20V583.90M971.19 574.20V583.90M978.16 574.20V583.90M985.13 574.20V583.90M992.09 574.20V583.90M999.06 574.20V583.90M1019.96 574.20V583.90M1026.92 574.20V583.90M1033.89 574.20V583.90M1040.85 574.20V583.90M748.28 588.60V598.70M755.25 588.60V598.70M762.21 588.60V598.70M769.18 588.60V598.70M776.15 588.60V598.70M783.11 588.60V598.70M790.08 588.60V598.70M797.04 588.60V598.70M804.01 588.60V598.70M810.98 588.60V598.70M817.94 588.60V598.70M824.91 588.60V598.70M831.87 588.60V598.70M838.84 588.60V598.70M845.81 588.60V598.70M852.77 588.60V598.70M859.74 588.60V598.70M866.70 588.60V598.70M887.60 588.60V598.70M894.57 588.60V598.70M901.53 588.60V598.70M908.50 588.60V598.70M915.47 588.60V598.70M922.43 588.60V598.70M929.40 588.60V598.70M936.36 588.60V598.70M943.33 588.60V598.70M950.30 588.60V598.70M957.26 588.60V598.70M748.28 602.80V613.30M755.25 602.80V613.30M762.21 602.80V613.30M769.18 602.80V613.30M776.15 602.80V613.30M783.11 602.80V613.30M790.08 602.80V613.30M797.04 602.80V613.30M804.01 602.80V613.30M810.98 602.80V613.30M817.94 602.80V613.30M824.91 602.80V613.30M831.87 602.80V613.30M838.84 602.80V613.30M845.81 602.80V613.30M852.77 602.80V613.30M859.74 602.80V613.30M866.70 602.80V613.30M887.60 602.80V613.30M894.57 602.80V613.30M901.53 602.80V613.30M908.50 602.80V613.30M915.47 602.80V613.30M922.43 602.80V613.30M929.40 602.80V613.30M936.36 602.80V613.30M943.33 602.80V613.30M950.30 602.80V613.30M957.26 602.80V613.30M866.70 617.80V628.00M887.60 617.80V628.00M894.57 617.80V628.00M901.53 617.80V628.00M908.50 617.80V628.00M915.47 617.80V628.00M922.43 617.80V628.00M929.40 617.80V628.00M936.36 617.80V628.00M943.33 617.80V628.00M950.30 617.80V628.00M957.26 617.80V628.00M866.70 632.20V642.70M887.60 632.20V642.70M894.57 632.20V642.70M901.53 632.20V642.70M908.50 632.20V642.70M915.47 632.20V642.70M922.43 632.20V642.70M929.40 632.20V642.70M936.36 632.20V642.70M943.33 632.20V642.70M950.30 632.20V642.70M957.26 632.20V642.70M748.28 703.70V713.90M755.25 703.70V713.90M762.21 703.70V713.90M769.18 703.70V713.90M776.15 703.70V713.90M783.11 703.70V713.90M790.08 703.70V713.90M797.04 703.70V713.90M804.01 703.70V713.90M810.98 703.70V713.90M817.94 703.70V713.90M824.91 703.70V713.90M831.87 703.70V713.90M838.84 703.70V713.90M845.81 703.70V713.90M852.77 703.70V713.90M859.74 703.70V713.90M866.70 703.70V713.90M887.60 703.70V713.90M894.57 703.70V713.90M901.53 703.70V713.90M908.50 703.70V713.90M915.47 703.70V713.90M922.43 703.70V713.90M929.40 703.70V713.90M936.36 703.70V713.90M943.33 703.70V713.90M950.30 703.70V713.90M957.26 703.70V713.90"/>
<path class="s" d="M462.68 185.00V196.20M469.64 185.00V196.20M476.61 185.00V196.20M483.57 185.00V196.20M490.54 185.00V196.20M497.51 185.00V196.20M525.37 185.00V196.20M532.34 185.00V196.20M539.30 185.00V196.20M546.27 185.00V196.20M553.23 185.00V196.20M560.20 185.00V196.20M567.17 185.00V196.20M574.13 185.00V196.20M581.10 185.00V196.20M588.06 185.00V196.20M595.03 185.00V196.20M602.00 185.00V196.20M608.96 185.00V196.20M615.93 185.00V196.20M622.89 185.00V196.20M629.86 185.00V196.20M636.83 185.00V196.20M643.79 185.00V196.20M650.76 185.00V196.20M657.72 185.00V196.20M664.69 185.00V196.20M671.66 185.00V196.20M678.62 185.00V196.20M685.59 185.00V196.20M692.55 185.00V196.20M699.52 185.00V196.20M706.49 185.00V196.20M713.45 185.00V196.20M720.42 185.00V196.20M727.38 185.00V196.20M734.35 185.00V196.20M741.32 185.00V196.20M748.28 185.00V196.20M755.25 185.00V196.20M762.21 185.00V196.20M769.18 185.00V196.20M776.15 185.00V196.20M783.11 185.00V196.20M790.08 185.00V196.20M462.68 227.60V239.10M469.64 227.60V239.10M476.61 227.60V239.10M483.57 227.60V239.10M490.54 227.60V239.10M497.51 227.60V239.10M525.37 227.60V239.10M532.34 227.60V239.10M539.30 227.60V239.10M546.27 227.60V239.10M553.23 227.60V239.10M560.20 227.60V239.10M567.17 227.60V239.10M574.13 227.60V239.10M581.10 227.60V239.10M588.06 227.60V239.10M595.03 227.60V239.10M602.00 227.60V239.10M608.96 227.60V239.10M615.93 227.60V239.10M622.89 227.60V239.10M629.86 227.60V239.10M636.83 227.60V239.10M643.79 227.60V239.10M650.76 227.60V239.10M657.72 227.60V239.10M664.69 227.60V239.10M671.66 227.60V239.10M678.62 227.60V239.10M685.59 227.60V239.10M692.55 227.60V239.10M699.52 227.60V239.10M706.49 227.60V239.10M713.45 227.60V239.10M720.42 227.60V239.10M727.38 227.60V239.10M734.35 227.60V239.10M741.32 227.60V239.10M748.28 227.60V239.10M755.25 227.60V239.10M762.21 227.60V239.10M769.18 227.60V239.10M776.15 227.60V239.10M783.11 227.60V239.10M790.08 227.60V239.10M532.34 617.30V628.50M539.30 617.30V628.50M546.27 617.30V628.50M553.23 617.30V628.50M560.20 617.30V628.50M588.06 617.30V628.50M595.03 617.30V628.50M602.00 617.30V628.50M608.96 617.30V628.50M615.93 617.30V628.50M622.89 617.30V628.50M629.86 617.30V628.50M636.83 617.30V628.50M643.79 617.30V628.50M650.76 617.30V628.50M657.72 617.30V628.50M664.69 617.30V628.50M671.66 617.30V628.50M678.62 617.30V628.50M685.59 617.30V628.50M692.55 617.30V628.50M699.52 617.30V628.50M706.49 617.30V628.50M713.45 617.30V628.50M720.42 617.30V628.50M727.38 617.30V628.50M734.35 617.30V628.50M532.34 631.70V643.20M539.30 631.70V643.20M546.27 631.70V643.20M553.23 631.70V643.20M560.20 631.70V643.20M588.06 631.70V643.20M595.03 631.70V643.20M602.00 631.70V643.20M608.96 631.70V643.20M615.93 631.70V643.20M622.89 631.70V643.20M629.86 631.70V643.20M636.83 631.70V643.20M643.79 631.70V643.20M650.76 631.70V643.20M657.72 631.70V643.20M664.69 631.70V643.20M671.66 631.70V643.20M678.62 631.70V643.20M685.59 631.70V643.20M692.55 631.70V643.20M699.52 631.70V643.20M706.49 631.70V643.20M713.45 631.70V643.20M720.42 631.70V643.20M727.38 631.70V643.20M734.35 631.70V643.20"/></g>
</svg>
<div class="h" style="left:-568.00px;top:75px;width:1200px;text-align:center;font-size:11.35px;">Station</div>
<div class="h" style="left:-483.50px;top:75px;width:1200px;text-align:center;font-size:11.35px;">Parameter</div>
<div class="h" style="left:176.30px;top:75px;">Trend analyses</div>
<div class="h" style="left:355.70px;top:75px;font-size:11.36px;">Change points detected by Pettitt test (<span class='rho'>ρ</span>=0.8)<span class='sq'> </span>and t-test<span class='sq2'> </span>(α = 0.025)</div>
<div class="t" style="left:176.00px;top:89px;">Spearman rank test</div>
<div class="t" style="left:176.00px;top:100px;">α = 0.025</div>
<div class="t" style="left:267.50px;top:89px;">Mann-Kendall test</div>
<div class="t" style="left:267.50px;top:100px;">α = 0.025</div>
<div class="t" style="left:-227.10px;top:89px;width:1200px;text-align:center;">Number</div>
<div class="t" style="left:-227.10px;top:100px;width:1200px;text-align:center;">detected</div>
<div class="t" style="left:-178.80px;top:89px;width:1200px;text-align:center;">Effect size:</div>
<div class="t" style="left:-179.40px;top:100px;width:1200px;text-align:center;">Cohen's d</div>
<div class="t" style="left:457.50px;top:89px;">Hydrological Year</div>
<div class="t" style="left:457.46px;top:100px;">1920</div>
<div class="t" style="left:527.12px;top:100px;">1930</div>
<div class="t" style="left:596.78px;top:100px;">1940</div>
<div class="t" style="left:666.44px;top:100px;">1950</div>
<div class="t" style="left:736.10px;top:100px;">1960</div>
<div class="t" style="left:805.76px;top:100px;">1970</div>
<div class="t" style="left:875.42px;top:100px;">1980</div>
<div class="t" style="left:945.08px;top:100px;">1990</div>
<div class="t" style="left:1014.74px;top:100px;">2000</div>
<div class="t" style="left:7.00px;top:114px;">Filabusi</div>
<div class="t" style="left:59.30px;top:114px;">Annual Rainfall</div>
<div class="t" style="left:59.30px;top:128px;">Wet days</div>
<div class="t" style="left:-227.10px;top:128px;width:1200px;text-align:center;">1</div>
<div class="t" style="left:147.90px;top:128px;width:300px;text-align:right;"><b>0.94</b></div>
<div class="t" style="left:59.30px;top:143px;">Days rainfall &gt;10 mm</div>
<div class="t" style="left:59.30px;top:157px;">Days rainfall &gt;20 mm</div>
<div class="t" style="left:59.30px;top:171px;">Days rainfall &gt;30 mm</div>
<div class="t" style="left:59.30px;top:185px;">Longest Dry spell</div>
<div class="t" style="left:-227.10px;top:185px;width:1200px;text-align:center;">2</div>
<div class="t" style="left:146.95px;top:185px;width:300px;text-align:right;"><i>0.59</i><span class='sc'> ; </span><i>0.33</i></div>
<div class="t" style="left:59.30px;top:199px;">Dry spells 5-7 days</div>
<div class="t" style="left:59.30px;top:214px;">Dry spells 8-14 days</div>
<div class="t" style="left:59.30px;top:228px;">Dry spells &gt;14 days</div>
<div class="t" style="left:176.00px;top:228px;">Significant increase</div>
<div class="t" style="left:267.50px;top:228px;">Significant increase</div>
<div class="t" style="left:-227.10px;top:228px;width:1200px;text-align:center;">2</div>
<div class="t" style="left:146.95px;top:228px;width:300px;text-align:right;"><b>0.90</b><span class='sc'> ; </span><i>0.79</i></div>
<div class="t" style="left:59.30px;top:242px;">Dry spells &gt;20 days</div>
<div class="t" style="left:176.00px;top:242px;">Significant increase</div>
<div class="t" style="left:267.50px;top:242px;">Significant increase</div>
<div class="t" style="left:-227.10px;top:242px;width:1200px;text-align:center;">1</div>
<div class="t" style="left:147.90px;top:242px;width:300px;text-align:right;"><b>0.90</b></div>
<div class="t" style="left:59.30px;top:256px;">Dry spells total</div>
<div class="t" style="left:7.00px;top:270px;">Mbalabala</div>
<div class="t" style="left:59.30px;top:270px;">Annual Rainfall</div>
<div class="t" style="left:59.30px;top:284px;">Wet days</div>
<div class="t" style="left:-227.10px;top:284px;width:1200px;text-align:center;">1</div>
<div class="t" style="left:147.90px;top:284px;width:300px;text-align:right;"><b>1.17</b></div>
<div class="t" style="left:59.30px;top:299px;">Days rainfall &gt;10 mm</div>
<div class="t" style="left:59.30px;top:313px;">Days rainfall &gt;20 mm</div>
<div class="t" style="left:59.30px;top:327px;">Days rainfall &gt;30 mm</div>
<div class="t" style="left:59.30px;top:341px;">Longest Dry spell</div>
<div class="t" style="left:-227.10px;top:341px;width:1200px;text-align:center;">1</div>
<div class="t" style="left:147.90px;top:341px;width:300px;text-align:right;"><b>0.74</b></div>
<div class="t" style="left:59.30px;top:355px;">Dry spells 5-7 days</div>
<div class="t" style="left:59.30px;top:369px;">Dry spells 8-14 days</div>
<div class="t" style="left:-227.10px;top:369px;width:1200px;text-align:center;">1</div>
<div class="t" style="left:146.95px;top:369px;width:300px;text-align:right;"><i>0.65</i></div>
<div class="t" style="left:59.30px;top:384px;">Dry spells &gt;14 days</div>
<div class="t" style="left:59.30px;top:398px;">Dry spells &gt;20 days</div>
<div class="t" style="left:-227.10px;top:398px;width:1200px;text-align:center;">1</div>
<div class="t" style="left:146.95px;top:398px;width:300px;text-align:right;"><i>0.61</i></div>
<div class="t" style="left:59.30px;top:412px;">Dry spells total</div>
<div class="t" style="left:267.50px;top:412px;">Significant increase</div>
<div class="t" style="left:7.00px;top:433px;">Mzingwane</div>
<div class="t" style="left:7.00px;top:444px;">Dam</div>
<div class="t" style="left:59.30px;top:430px;">Annual Rainfall</div>
<div class="t" style="left:-227.10px;top:430px;width:1200px;text-align:center;">1</div>
<div class="t" style="left:146.95px;top:430px;width:300px;text-align:right;"><i>0.73</i></div>
<div class="t" style="left:59.30px;top:445px;">Wet days</div>
<div class="t" style="left:-227.10px;top:445px;width:1200px;text-align:center;">1</div>
<div class="t" style="left:146.95px;top:445px;width:300px;text-align:right;"><i>0.74</i></div>
<div class="t" style="left:59.30px;top:459px;">Days rainfall &gt;10 mm</div>
<div class="t" style="left:59.30px;top:473px;">Days rainfall &gt;20 mm</div>
<div class="t" style="left:-227.10px;top:473px;width:1200px;text-align:center;">1</div>
<div class="t" style="left:147.90px;top:473px;width:300px;text-align:right;"><b>0.83</b></div>
<div class="t" style="left:59.30px;top:488px;">Days rainfall &gt;30 mm</div>
<div class="t" style="left:59.30px;top:502px;">Longest Dry spell</div>
<div class="t" style="left:-227.10px;top:502px;width:1200px;text-align:center;">1</div>
<div class="t" style="left:146.95px;top:502px;width:300px;text-align:right;"><i>0.66</i></div>
<div class="t" style="left:59.30px;top:516px;">Dry spells 5-7 days</div>
<div class="t" style="left:59.30px;top:531px;">Dry spells 8-14 days</div>
<div class="t" style="left:-227.10px;top:531px;width:1200px;text-align:center;">1</div>
<div class="t" style="left:146.95px;top:531px;width:300px;text-align:right;"><i>0.75</i></div>
<div class="t" style="left:59.30px;top:545px;">Dry spells &gt;14 days</div>
<div class="t" style="left:59.30px;top:559px;">Dry spells &gt;20 days</div>
<div class="t" style="left:59.30px;top:573px;">Dry spells total</div>
<div class="t" style="left:146.95px;top:573px;width:300px;text-align:right;"><i>0.76</i></div>
<div class="t" style="left:7.00px;top:592px;">Matopos</div>
<div class="t" style="left:7.00px;top:602px;">Nat. Park</div>
<div class="t" style="left:59.30px;top:588px;">Annual Rainfall</div>
<div class="t" style="left:176.00px;top:588px;">Significant decrease</div>
<div class="t" style="left:267.50px;top:588px;">Significant decrease</div>
<div class="t" style="left:-227.10px;top:588px;width:1200px;text-align:center;">1</div>
<div class="t" style="left:146.95px;top:588px;width:300px;text-align:right;"><i>0.68</i></div>
<div class="t" style="left:59.30px;top:603px;">Wet days</div>
<div class="t" style="left:-227.10px;top:603px;width:1200px;text-align:center;">1</div>
<div class="t" style="left:146.95px;top:603px;width:300px;text-align:right;"><i>0.65</i></div>
<div class="t" style="left:59.30px;top:617px;">Days rainfall &gt;10 mm</div>
<div class="t" style="left:176.00px;top:617px;">Significant decrease</div>
<div class="t" style="left:267.50px;top:617px;">Significant decrease</div>
<div class="t" style="left:-227.10px;top:617px;width:1200px;text-align:center;">2</div>
<div class="t" style="left:146.95px;top:617px;width:300px;text-align:right;"><i>0.38</i><span class='sc'> ; </span><i>0.67</i></div>
<div class="t" style="left:59.30px;top:632px;">Days rainfall &gt;20 mm</div>
<div class="t" style="left:176.00px;top:632px;">Significant decrease</div>
<div class="t" style="left:267.50px;top:632px;">Significant decrease</div>
<div class="t" style="left:-227.10px;top:632px;width:1200px;text-align:center;">2</div>
<div class="t" style="left:146.95px;top:632px;width:300px;text-align:right;"><i class='sm'>0.27</i><span class='sc'> ; </span><i>0.76</i></div>
<div class="t" style="left:59.30px;top:646px;">Days rainfall &gt;30 mm</div>
<div class="t" style="left:59.30px;top:660px;">Longest Dry spell</div>
<div class="t" style="left:59.30px;top:675px;">Dry spells 5-7 days</div>
<div class="t" style="left:59.30px;top:689px;">Dry spells 8-14 days</div>
<div class="t" style="left:59.30px;top:703px;">Dry spells &gt;14 days</div>
<div class="t" style="left:-227.10px;top:703px;width:1200px;text-align:center;">1</div>
<div class="t" style="left:146.95px;top:703px;width:300px;text-align:right;"><i>0.59</i></div>
<div class="t" style="left:59.30px;top:718px;">Dry spells &gt;20 days</div>
<div class="t" style="left:59.30px;top:732px;">Dry spells total</div>
</div>
</body></html>
